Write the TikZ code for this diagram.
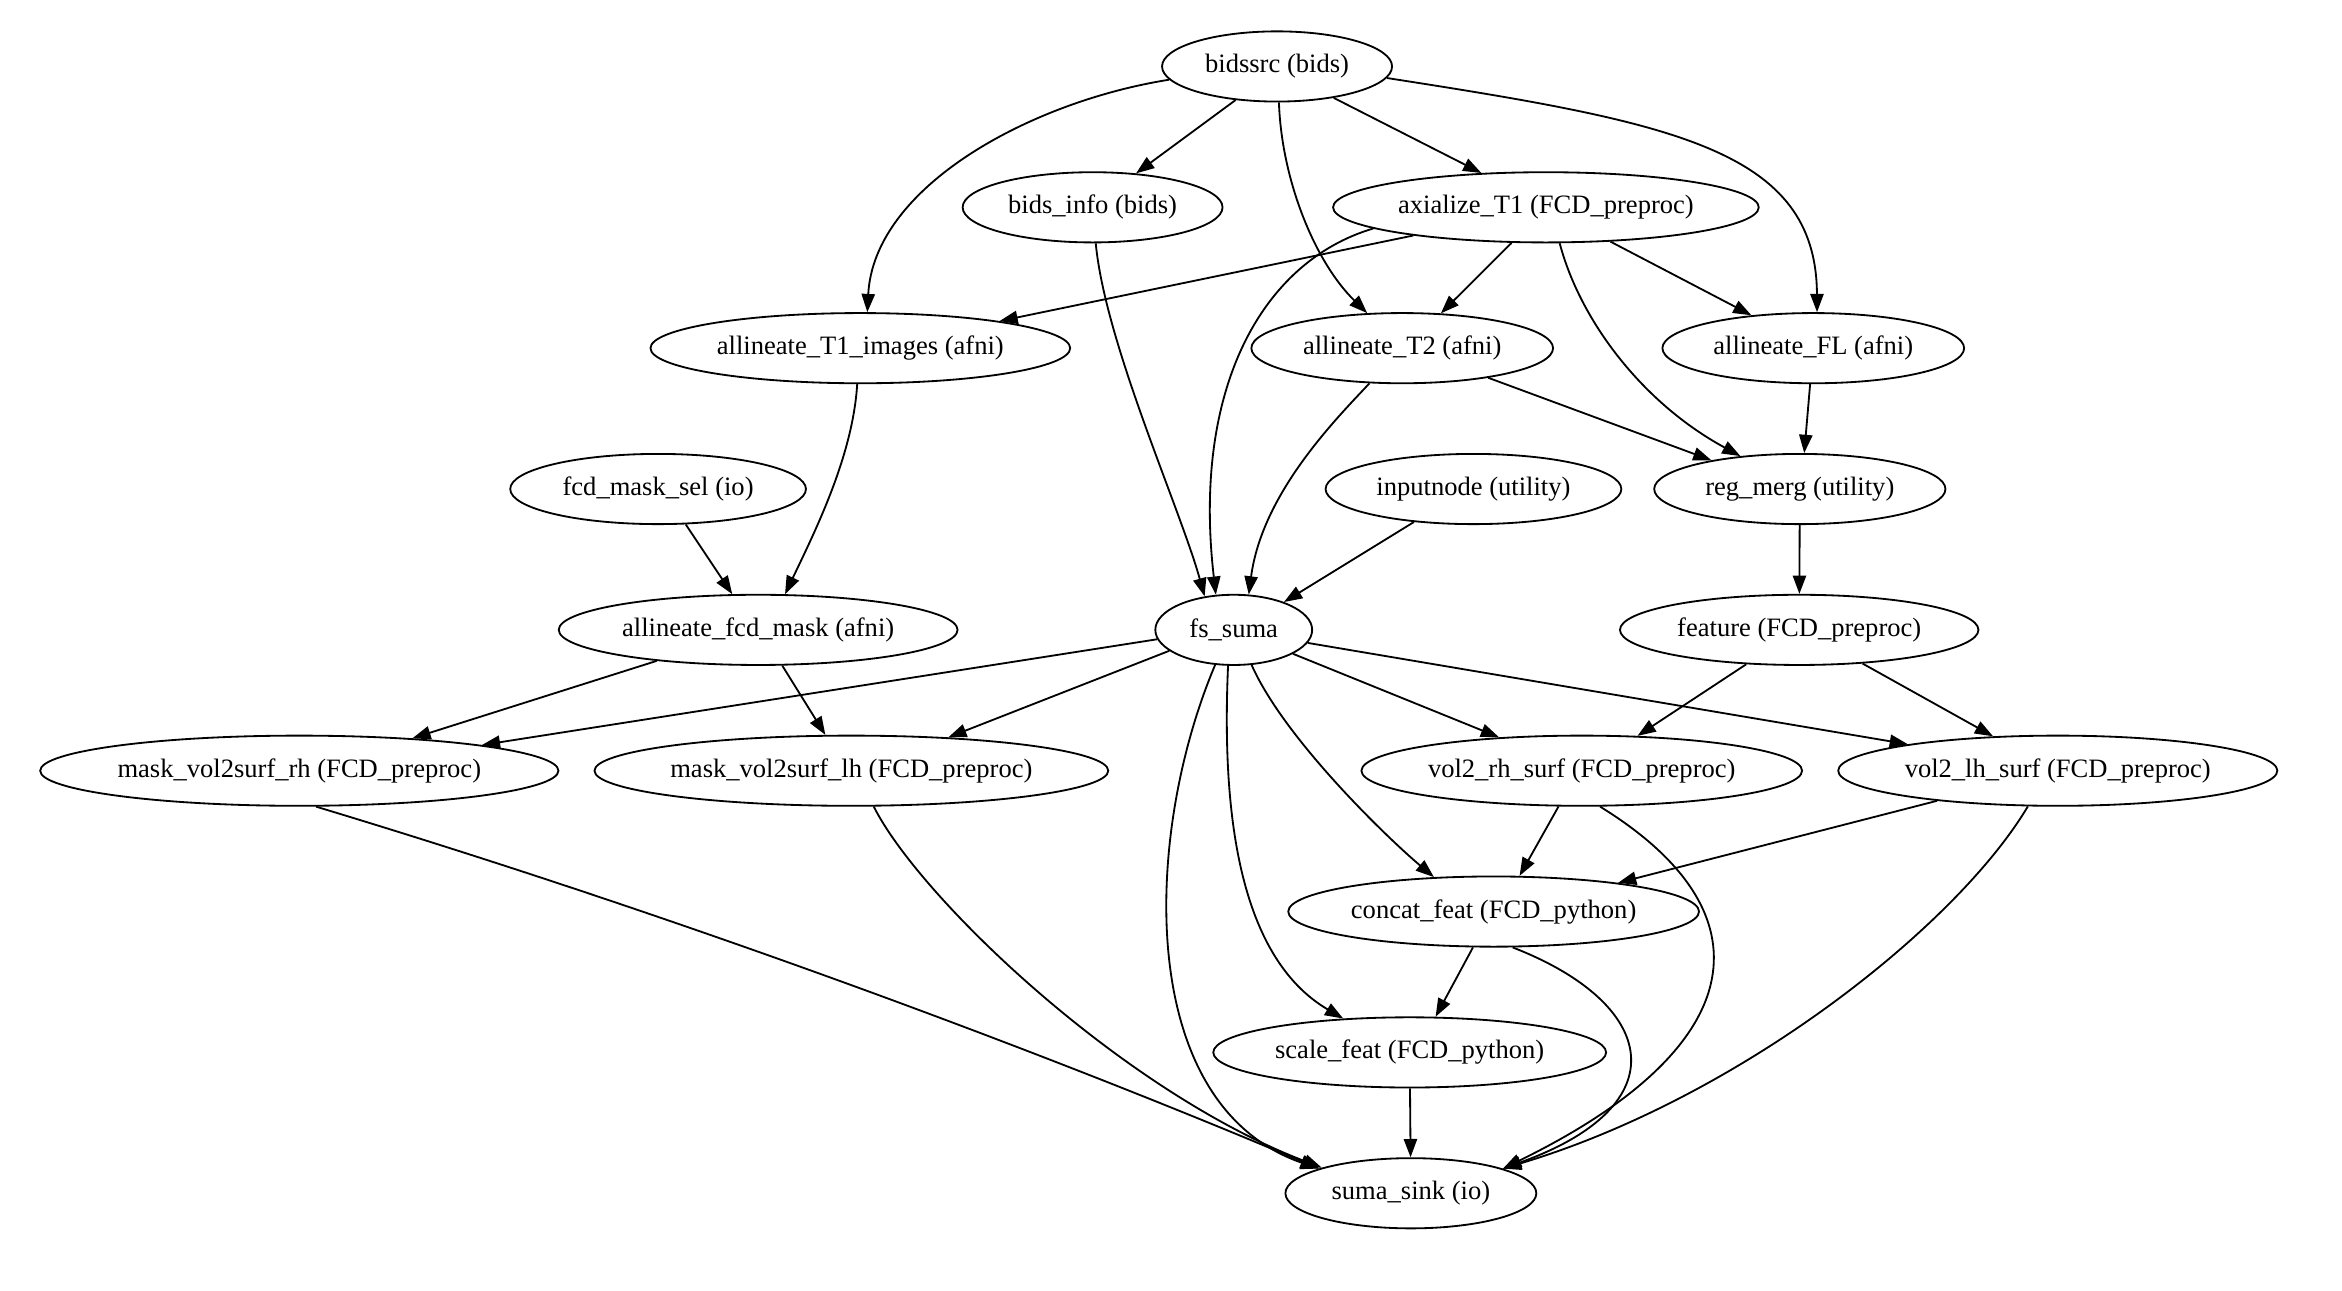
\documentclass[tikz,border=0pt]{standalone}
\usepackage{fontspec}
\setmainfont{Liberation Serif}
\usetikzlibrary{arrows.meta,shapes.geometric}
\begin{document}
\begin{tikzpicture}[x=0.9pt,y=-0.9pt,
  nd/.style={draw,ellipse,line width=1.1pt,inner sep=0pt,minimum height=42.3pt,font=\fontsize{16}{19}\selectfont},
  edge/.style={line width=1.1pt,-{Triangle[length=11pt,width=8pt]}}]
\useasboundingbox (0,0) rectangle (1568,864);
% nodes
\node[nd,minimum width=138.6pt] (bidssrc) at (855,44.5) {bidssrc (bids)};
\node[nd,minimum width=156.6pt] (binfo) at (731.5,138.8) {bids\_info (bids)};
\node[nd,minimum width=256.5pt] (axT1) at (1035,138.8) {axialize\_T1 (FCD\_preproc)};
\node[nd,minimum width=252.9pt] (alT1) at (576,233.1) {allineate\_T1\_images (afni)};
\node[nd,minimum width=181.8pt] (alT2) at (938.8,233.1) {allineate\_T2 (afni)};
\node[nd,minimum width=181.8pt] (alFL) at (1214,233.1) {allineate\_FL (afni)};
\node[nd,minimum width=178.2pt] (fcdsel) at (440.6,327.4) {fcd\_mask\_sel (io)};
\node[nd,minimum width=178.2pt] (inputnode) at (986.5,327.4) {inputnode (utility)};
\node[nd,minimum width=175.5pt] (regmerg) at (1205,327.4) {reg\_merg (utility)};
\node[nd,minimum width=240.3pt] (alfcd) at (507.6,421.7) {allineate\_fcd\_mask (afni)};
\node[nd,minimum width=94.5pt] (fssuma) at (826,421.7) {fs\_suma};
\node[nd,minimum width=216pt] (feature) at (1204.6,421.7) {feature (FCD\_preproc)};
\node[nd,minimum width=312.3pt] (mrh) at (200.4,516) {mask\_vol2surf\_rh (FCD\_preproc)};
\node[nd,minimum width=309.6pt] (mlh) at (570,516) {mask\_vol2surf\_lh (FCD\_preproc)};
\node[nd,minimum width=265.5pt] (v2rh) at (1059,516) {vol2\_rh\_surf (FCD\_preproc)};
\node[nd,minimum width=264.6pt] (v2lh) at (1377.7,516) {vol2\_lh\_surf (FCD\_preproc)};
\node[nd,minimum width=247.5pt] (concat) at (1000,610.3) {concat\_feat (FCD\_python)};
\node[nd,minimum width=236.7pt] (scalef) at (943.8,704.6) {scale\_feat (FCD\_python)};
\node[nd,minimum width=151.2pt] (sink) at (944.6,798.9) {suma\_sink (io)};
% edges
\draw[edge] (bidssrc.-141) -- (binfo.38);
\draw[edge] (bidssrc.-29) -- (axT1.152);
\draw[edge] (bidssrc.187) .. controls (690,68) and (585,125) .. (alT1.79);
\draw[edge] (bidssrc.-87) .. controls (858,120) and (880,175) .. (alT2.135);
\draw[edge] (bidssrc.-6) .. controls (1120,82) and (1216,100) .. (alFL.84);
\draw[edge] (binfo.-85) .. controls (740,230) and (790,340) .. (fssuma.131);
\draw[edge] (axT1.192) -- (alT1.11);
\draw[edge] (axT1.187) .. controls (845,175) and (798,260) .. (fssuma.117);
\draw[edge] (axT1.-134) -- (alT2.42);
\draw[edge] (axT1.-28) -- (alFL.152);
\draw[edge] (axT1.-69) .. controls (1058,215) and (1100,270) .. (regmerg.151);
\draw[edge] (alT2.-19) -- (regmerg.162);
\draw[edge] (alT2.-133) .. controls (895,280) and (845,330) .. (fssuma.67);
\draw[edge] (alFL.-95) -- (regmerg.83);
\draw[edge] (alT1.-95) .. controls (571,305) and (546,355) .. (alfcd.53);
\draw[edge] (fcdsel.-52) -- (alfcd.126);
\draw[edge] (inputnode.-151) -- (fssuma.29);
\draw[edge] (regmerg) -- (feature);
\draw[edge] (alfcd.-163) -- (mrh.16);
\draw[edge] (alfcd.-56) -- (mlh.126);
\draw[edge] (fssuma.-173) -- (mrh.8);
\draw[edge] (fssuma.-162) -- (mlh.19);
\draw[edge] (fssuma.-22) -- (v2rh.158);
\draw[edge] (fssuma.-10) -- (v2lh.170);
\draw[edge] (fssuma.-63) .. controls (860,495) and (930,562) .. (concat.150);
\draw[edge] (fssuma.-99) .. controls (818,540) and (828,640) .. (scalef.153);
\draw[edge] (fssuma.-118) .. controls (765,560) and (760,740) .. (sink.165);
\draw[edge] (feature.-147) -- (v2rh.32);
\draw[edge] (feature.-28) -- (v2lh.152);
\draw[edge] (v2rh.-123) -- (concat.54);
\draw[edge] (v2rh.-63) .. controls (1185,610) and (1175,700) .. (sink.15);
\draw[edge] (v2lh.-166) -- (concat.13);
\draw[edge] (v2lh.-130) .. controls (1310,620) and (1165,735) .. (sink.15);
\draw[edge] (concat.-120) -- (scalef.54);
\draw[edge] (concat.-62) .. controls (1110,672) and (1125,740) .. (sink.15);
\draw[edge] (scalef) -- (sink);
\draw[edge] (mrh.-65) .. controls (460,615) and (700,705) .. (sink.165);
\draw[edge] (mlh.-58) .. controls (615,600) and (750,730) .. (sink.164);
\end{tikzpicture}
\end{document}
